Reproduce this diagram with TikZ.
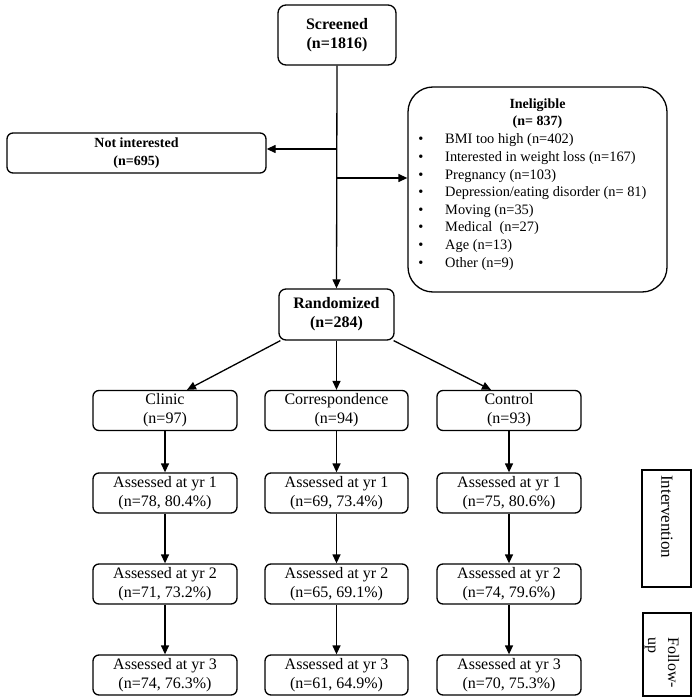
\documentclass[tikz,border=0pt]{standalone}
\usepackage{fontspec}
\setmainfont{Liberation Serif}
\usetikzlibrary{arrows.meta}
\tikzset{
  box/.style={draw, line width=1.3pt, rounded corners=6pt, inner sep=0pt, align=center},
  plainbox/.style={draw, line width=1.3pt, inner sep=0pt},
  arr/.style={-{Triangle[length=9pt,width=8pt]}, line width=1.3pt},
  line/.style={line width=1.3pt},
  bigb/.style={font=\bfseries\fontsize{16}{19}\selectfont},
  medb/.style={font=\bfseries\fontsize{14}{17.5}\selectfont},
  big/.style={font=\fontsize{16}{19}\selectfont},
  listf/.style={font=\fontsize{14.4}{17}\selectfont, inner sep=0pt},
  colbox/.style={box, minimum width=144pt, minimum height=40pt, big},
}
\begin{document}
\begin{tikzpicture}[x=1pt,y=-1pt]
\useasboundingbox (0,0) rectangle (694,700);
% top
\node[box, rounded corners=8pt, minimum width=118pt, minimum height=60pt, bigb] (scr) at (337,35) {Screened\\(n=1816)};
\node[box, rounded corners=6pt, minimum width=259pt, minimum height=40pt, medb] (notint) at (136.5,153) {Not interested\\(n=695)};
\node[box, rounded corners=25pt, minimum width=259pt, minimum height=205pt] (inel) at (537.5,189.5) {};
\node[medb, align=center, inner sep=0pt] (inelT) at (537.5,113.5) {Ineligible\\(n= 837)};
\foreach \t [count=\i] in {BMI too high (n=402), Interested in weight loss (n=167), Pregnancy (n=103), Depression/eating disorder (n= 81), Moving (n=35), Medical\ \ (n=27), Age (n=13), Other (n=9)} {
  \node[listf, anchor=base west] (li\i) at (445,{126.4+17.6*\i}) {\t};
  \node[listf, anchor=base] (bu\i) at (421,{126.4+17.6*\i}) {\textbullet};
}
\node[box, rounded corners=7pt, minimum width=115pt, minimum height=51pt, bigb] (rand) at (336.5,314.5) {Randomized\\(n=284)};
\coordinate (j1) at (337,149);
\coordinate (j2) at (337,178);
\draw[arr] (scr.south) -- (rand.north);
\draw[arr] (j1) -- (j1 -| notint.east);
\draw[arr] (j2) -- (j2 -| inel.west);
% arms
\node[colbox] (clin) at (165,410.5) {Clinic\\(n=97)};
\node[colbox, minimum width=143pt] (corr) at (336.5,410.5) {Correspondence\\(n=94)};
\node[colbox] (ctrl) at (509,410.5) {Control\\(n=93)};
\draw[arr] ([xshift=2pt]rand.south west) -- ([xshift=22pt]clin.north);
\draw[arr] (rand.south) -- (corr.north);
\draw[arr] ([xshift=-1pt]rand.south east) -- ([xshift=-18pt]ctrl.north);
% follow-up rows
\node[colbox] (c1) at (165,493) {Assessed at yr 1\\(n=78, 80.4\%)};
\node[colbox] (c2) at (165,584) {Assessed at yr 2\\(n=71, 73.2\%)};
\node[colbox] (c3) at (165,675) {Assessed at yr 3\\(n=74, 76.3\%)};
\node[colbox, minimum width=143pt] (r1) at (336.5,493) {Assessed at yr 1\\(n=69, 73.4\%)};
\node[colbox, minimum width=143pt] (r2) at (336.5,584) {Assessed at yr 2\\(n=65, 69.1\%)};
\node[colbox, minimum width=143pt] (r3) at (336.5,675) {Assessed at yr 3\\(n=61, 64.9\%)};
\node[colbox] (k1) at (509,493) {Assessed at yr 1\\(n=75, 80.6\%)};
\node[colbox] (k2) at (509,584) {Assessed at yr 2\\(n=74, 79.6\%)};
\node[colbox] (k3) at (509,675) {Assessed at yr 3\\(n=70, 75.3\%)};
\draw[arr] (clin.south) -- (c1.north);
\draw[arr] (c1.south) -- (c2.north);
\draw[arr] (c2.south) -- (c3.north);
\draw[arr] (corr.south) -- (r1.north);
\draw[arr] (r1.south) -- (r2.north);
\draw[arr] (r2.south) -- (r3.north);
\draw[arr] (ctrl.south) -- (k1.north);
\draw[arr] (k1.south) -- (k2.north);
\draw[arr] (k2.south) -- (k3.north);
% side labels
\node[plainbox, minimum width=49pt, minimum height=117pt] (intbox) at (666.5,528.5) {};
\node[rotate=-90, anchor=west, inner sep=0pt, font=\fontsize{17}{20}\selectfont] (intT) at (667,475) {Intervention};
\node[plainbox, minimum width=48pt, minimum height=83pt] (fubox) at (667,654.5) {};
\node[rotate=-90, anchor=west, inner sep=0pt, align=left, font=\fontsize{16}{20}\selectfont] (fuT) at (662,637) {Follow-\\up};
\end{tikzpicture}
\end{document}
